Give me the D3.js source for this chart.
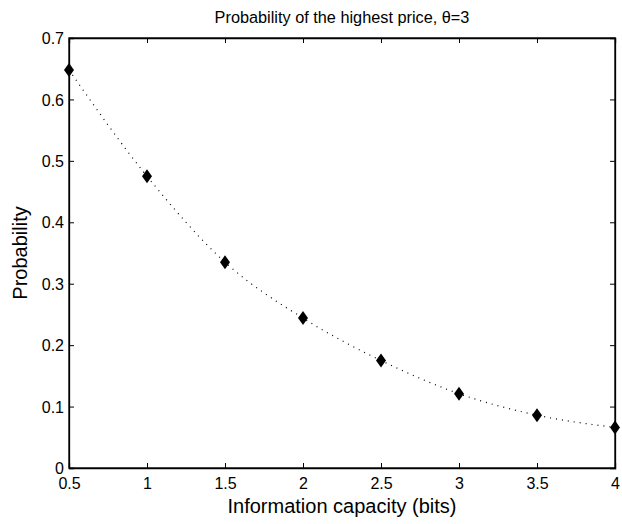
<!DOCTYPE html>
<html>
<head>
<meta charset="utf-8">
<script src="https://cdn.jsdelivr.net/npm/d3@7"></script>
<style>
  body { margin: 0; background: #fff; }
  svg text { font-family: "Liberation Sans", Arial, sans-serif; fill: #000; }
</style>
</head>
<body>
<svg id="chart"></svg>
<script>
const capacity = [0.5, 1, 1.5, 2, 2.5, 3, 3.5, 4];
const probability = [0.648, 0.475, 0.335, 0.244, 0.175, 0.121, 0.086, 0.066];
const xTicks = [0.5, 1, 1.5, 2, 2.5, 3, 3.5, 4];
const yTicks = [0, 0.1, 0.2, 0.3, 0.4, 0.5, 0.6, 0.7];

const W = 622, H = 524;
const margin = { top: 38, right: 7, bottom: 56, left: 69 };
const width = W - margin.left - margin.right;
const height = H - margin.top - margin.bottom;

const svg = d3.select("#chart").attr("width", W).attr("height", H);

const xScale = d3.scaleLinear().domain([0.5, 4]).range([0, width]);
const yScale = d3.scaleLinear().domain([0, 0.7]).range([height, 0]);

const g = svg.append("g")
  .attr("transform", `translate(${margin.left}, ${margin.top})`);

// ticks pointing inward on all four sides
const tickLen = 5;
const xAxis = d3.axisBottom(xScale).tickValues(xTicks).tickSize(-tickLen).tickPadding(10)
  .tickFormat(d3.format("~g"));
const yAxis = d3.axisLeft(yScale).tickValues(yTicks).tickSize(-tickLen).tickPadding(5)
  .tickFormat(d3.format("~g"));

const xa = g.append("g").attr("transform", `translate(0, ${height})`).call(xAxis);
const ya = g.append("g").call(yAxis);
g.append("g").call(d3.axisTop(xScale).tickValues(xTicks).tickSize(-tickLen).tickFormat(""));
g.append("g").attr("transform", `translate(${width}, 0)`)
  .call(d3.axisRight(yScale).tickValues(yTicks).tickSize(-tickLen).tickFormat(""));

g.selectAll(".domain").attr("stroke", "#000").attr("stroke-width", 1.3);
g.selectAll(".tick line").attr("stroke", "#000");
g.selectAll(".tick text").attr("font-size", 16);
ya.selectAll(".tick text").attr("dy", "0.35em");

// box
g.append("rect").attr("width", width).attr("height", height)
  .attr("fill", "none").attr("stroke", "#000").attr("stroke-width", 1.3);

const points = capacity.map((c, i) => ({ x: c, y: probability[i] }));

const line = d3.line()
  .x(d => xScale(d.x))
  .y(d => yScale(d.y))
  .curve(d3.curveMonotoneX);

g.append("path")
  .datum(points)
  .attr("fill", "none")
  .attr("stroke", "#000")
  .attr("stroke-width", 1.2)
  .attr("stroke-dasharray", "1,5")
  .attr("d", line);

const diamond = "M0,-7 L5,0 L0,7 L-5,0 Z";
g.selectAll(".marker")
  .data(points)
  .join("path")
  .attr("class", "marker")
  .attr("d", diamond)
  .attr("transform", d => `translate(${xScale(d.x)}, ${yScale(d.y)})`)
  .attr("fill", "#000");

svg.append("text")
  .attr("x", margin.left + width / 2)
  .attr("y", 23)
  .attr("text-anchor", "middle")
  .attr("font-size", 16.3)
  .text("Probability of the highest price, θ=3");

svg.append("text")
  .attr("x", margin.left + width / 2)
  .attr("y", 513)
  .attr("text-anchor", "middle")
  .attr("font-size", 20)
  .text("Information capacity (bits)");

svg.append("text")
  .attr("transform", `translate(27, ${margin.top + height / 2}) rotate(-90)`)
  .attr("text-anchor", "middle")
  .attr("font-size", 20)
  .text("Probability");
</script>
</body>
</html>
